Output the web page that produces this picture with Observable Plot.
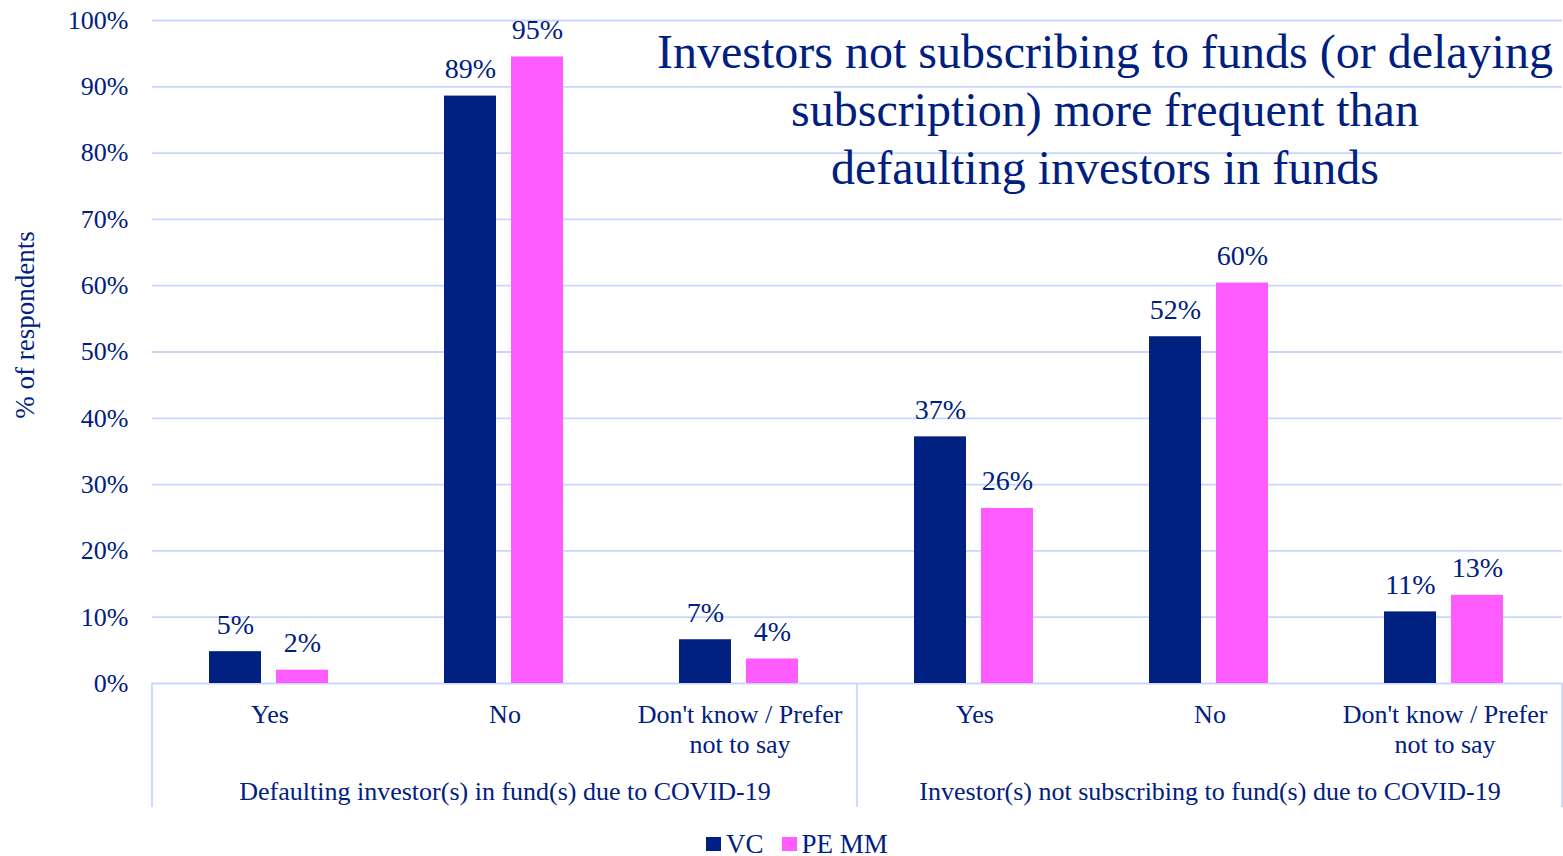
<!DOCTYPE html>
<html>
<head>
<meta charset="utf-8">
<script src="https://cdn.jsdelivr.net/npm/d3@7"></script>
<script src="https://cdn.jsdelivr.net/npm/@observablehq/plot@0.6"></script>
<style>
  html, body { margin: 0; padding: 0; background: #fff; }
  body { width: 1563px; height: 856px; overflow: hidden; font-family: "Liberation Serif", "Times New Roman", serif; color: #002080; }
  #wrap { position: relative; width: 1563px; height: 856px; }
  #chart { position: absolute; left: 0; top: 0; }
  #title { position: absolute; left: 630px; top: 23px; width: 950px; text-align: center; font-size: 48px; line-height: 58px; color: #002080; white-space: nowrap; }
  #ylabel { position: absolute; left: 25px; top: 325px; transform: translate(-50%, -50%) rotate(-90deg); white-space: nowrap; font-size: 27px; color: #002080; }
  #legend { position: absolute; left: 0; top: 829px; width: 1563px; display: flex; justify-content: flex-start; padding-left: 706px; box-sizing: border-box; font-size: 27px; line-height: 30px; color: #002080; }
  .item { display: flex; align-items: center; margin-right: 18px; }
  .sw { width: 15px; height: 14px; margin-right: 5px; }
</style>
</head>
<body>
<div id="wrap">
  <div id="chart"></div>
  <div id="title">Investors not subscribing to funds (or delaying<br>subscription) more frequent than<br>defaulting investors in funds</div>
  <div id="ylabel">% of respondents</div>
  <div id="legend"></div>
</div>
<script>
// ---- data ----
const groups = [
  "Defaulting investor(s) in fund(s) due to COVID-19",
  "Investor(s) not subscribing to fund(s) due to COVID-19"
];
const answers = ["Yes", "No", "Don't know / Prefer\nnot to say"];
const series = ["VC", "PE MM"];
const vcValues = [4.8, 88.6, 6.6, 37.2, 52.3, 10.8];
const peValues = [2.0, 94.5, 3.7, 26.4, 60.4, 13.3];
const yTicks = [0, 10, 20, 30, 40, 50, 60, 70, 80, 90, 100];
const colors = ["#002082", "#FF5CFF"];

// ---- derived tables ----
const categories = [];
groups.forEach((g, gi) => answers.forEach((a, ai) => categories.push({key: gi + "|" + ai, group: g, label: a, gi, ai})));
const keys = categories.map(d => d.key);
const rows = [];
categories.forEach((c, i) => {
  rows.push({key: c.key, series: series[0], value: vcValues[i]});
  rows.push({key: c.key, series: series[1], value: peValues[i]});
});
const groupRows = groups.map((g, gi) => ({key: gi + "|1", label: g}));

const textColor = "#002080";
const gridColor = "#C9D6FF";

const plot = Plot.plot({
  width: 1563,
  height: 815,
  marginLeft: 150,
  marginRight: 0,
  marginTop: 20,
  marginBottom: 132,
  style: {fontFamily: '"Liberation Serif", "Times New Roman", serif', color: textColor, background: "#fff", overflow: "visible"},
  fx: {domain: keys, paddingInner: 0, paddingOuter: 0, axis: null},
  x: {domain: series, paddingInner: 0.22, paddingOuter: 0.84, align: 0.49, axis: null},
  y: {domain: [0, 100], axis: null},
  color: {domain: series, range: colors},
  marks: [
    Plot.gridY(yTicks, {stroke: gridColor, strokeOpacity: 1, strokeWidth: 1.8}),
    Plot.axisY(yTicks, {tickSize: 0, tickPadding: 24, fontSize: 26, tickFormat: d => d + "%", label: null, fill: textColor}),
    Plot.barY(rows, {fx: "key", x: "series", y: "value", fill: "series"}),
    Plot.text(rows, {fx: "key", x: "series", y: "value", text: d => Math.round(d.value) + "%", lineAnchor: "bottom", dy: -18, fontSize: 28, fill: textColor}),
    Plot.text(categories, {fx: "key", frameAnchor: "bottom", text: "label", lineAnchor: "top", dy: 18.5, fontSize: 26, lineHeight: 1.154, fill: textColor}),
    Plot.text(groupRows, {fx: "key", frameAnchor: "bottom", text: "label", lineAnchor: "top", dy: 98, fontSize: 26, fill: textColor})
  ]
});
document.getElementById("chart").appendChild(plot);

// group separators drawn from the library's scales
const fxs = plot.scale("fx");
const ys = plot.scale("y");
const y0 = ys.apply(0);
const sepX = [fxs.apply(keys[0]), fxs.apply(keys[3]), fxs.apply(keys[5]) + fxs.bandwidth];
const svg = d3.select(plot.tagName.toLowerCase() === "svg" ? plot : plot.querySelector("svg"));
svg.append("g").selectAll("line").data(sepX).join("line")
  .attr("x1", d => Math.min(d, 1562)).attr("x2", d => Math.min(d, 1562))
  .attr("y1", y0).attr("y2", y0 + 124)
  .attr("stroke", gridColor).attr("stroke-width", 1.8);

// legend
const legend = document.getElementById("legend");
series.forEach((s, i) => {
  const item = document.createElement("div");
  item.className = "item";
  const sw = document.createElement("span");
  sw.className = "sw";
  sw.style.background = colors[i];
  const t = document.createElement("span");
  t.textContent = s;
  item.appendChild(sw); item.appendChild(t);
  legend.appendChild(item);
});
</script>
</body>
</html>
